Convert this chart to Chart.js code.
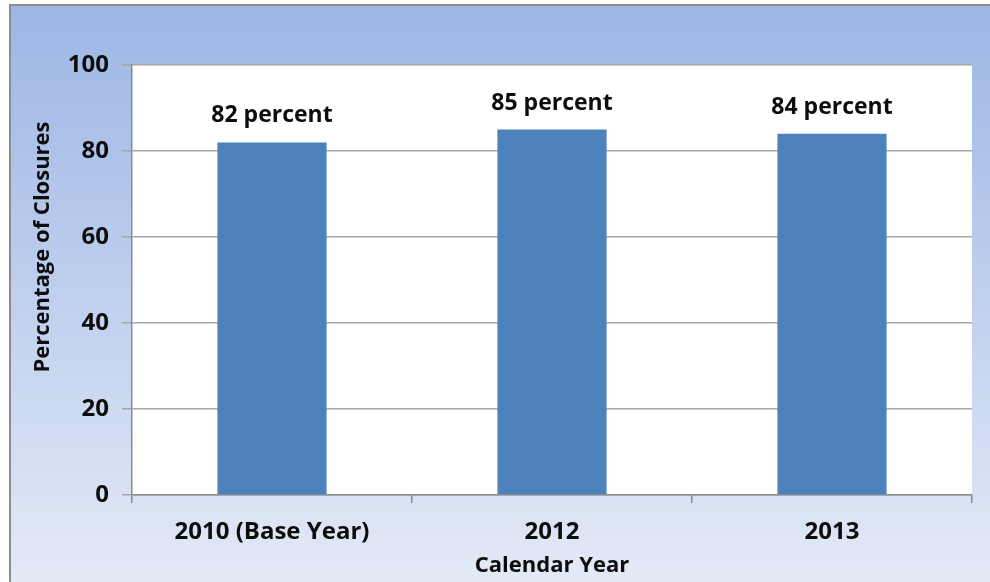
<!DOCTYPE html>
<html>
<head>
	<meta charset="UTF-8">
	<title>Percentage of Closures by Calendar Year</title>
	<script src="https://cdn.jsdelivr.net/npm/chart.js@4.4.1/dist/chart.umd.min.js"></script>
	<style>
		html, body { margin: 0; padding: 0; background: #fff; }
		#wrap { width: 990px; height: 582px; }
	</style>
</head>
<body>
	<div id="wrap"><canvas id="closureChart" width="990" height="582"></canvas></div>
	<script>
	// chart data
	const years = ["2010 (Base Year)", "2012", "2013"];
	const closures = [82, 85, 84];
	const valueLabels = ["82 percent", "85 percent", "84 percent"];
	const yTicks = [0, 20, 40, 60, 80, 100];

	const FONT = "'Open Sans', 'DejaVu Sans', sans-serif";

	// gradient frame, white plot area, axis titles
	const framePlugin = {
		id: 'frame',
		beforeDraw(chart){
			const ctx = chart.ctx;
			const area = chart.chartArea;
			ctx.save();
			ctx.fillStyle = '#ffffff';
			ctx.fillRect(0, 0, chart.width, chart.height);
			let grad = ctx.createLinearGradient(0, 5, 0, chart.height);
			grad.addColorStop(0, '#9db6e4');
			grad.addColorStop(0.5, '#bfcfee');
			grad.addColorStop(1, '#e3eaf6');
			ctx.fillStyle = grad;
			ctx.fillRect(10, 5, chart.width - 10, chart.height - 5);
			ctx.strokeStyle = '#8c8c8c';
			ctx.lineWidth = 2;
			ctx.beginPath();
			ctx.moveTo(10, chart.height);
			ctx.lineTo(10, 5);
			ctx.lineTo(chart.width, 5);
			ctx.stroke();
			ctx.fillStyle = '#ffffff';
			ctx.fillRect(area.left, area.top, area.right - area.left, area.bottom - area.top);
			ctx.restore();
		},
		afterDraw(chart){
			const ctx = chart.ctx;
			ctx.save();
			ctx.fillStyle = '#0d0d0d';
			ctx.font = "bold 22px " + FONT;
			ctx.textAlign = 'center';
			ctx.textBaseline = 'middle';
			ctx.fillText("Calendar Year", 552, 566);
			ctx.translate(43, 247);
			ctx.rotate(-Math.PI / 2);
			ctx.fillText("Percentage of Closures", 0, 0);
			ctx.restore();
		}
	};

	// "NN percent" above each bar
	const barLabels = {
		id: 'barLabels',
		afterDatasetsDraw(chart){
			const ctx = chart.ctx;
			const meta = chart.getDatasetMeta(0);
			ctx.save();
			ctx.fillStyle = '#0d0d0d';
			ctx.font = "bold 23px " + FONT;
			ctx.textAlign = 'center';
			ctx.textBaseline = 'alphabetic';
			meta.data.forEach(function(bar, i){
				ctx.fillText(valueLabels[i], bar.x, bar.y - 20);
			});
			ctx.restore();
		}
	};

	let chart = new Chart(document.getElementById("closureChart"), {
		type: 'bar',
		data: {
			labels: years,
			datasets: [{
				data: closures,
				backgroundColor: '#4f81bd',
				borderWidth: 0,
				barPercentage: 0.39,
				categoryPercentage: 1.0
			}]
		},
		options: {
			responsive: false,
			animation: false,
			layout: { padding: { left: 0, top: 65, right: 18, bottom: 0 } },
			plugins: {
				legend: { display: false },
				tooltip: { enabled: false }
			},
			scales: {
				x: {
					offset: true,
					grid: {
						offset: true,
						drawOnChartArea: false,
						color: '#8c8c8c',
						lineWidth: 1.5,
						tickLength: 8
					},
					border: { color: '#8c8c8c', width: 1.5 },
					ticks: {
						color: '#0d0d0d',
						font: { family: FONT, size: 24, weight: 'bold' },
						padding: 15,
						maxRotation: 0
					},
					afterFit(scale){ scale.height = 87; }
				},
				y: {
					min: 0,
					max: 100,
					afterBuildTicks(scale){
						scale.ticks = yTicks.map(v => ({ value: v }));
					},
					grid: {
						color: '#a6a6a6',
						lineWidth: 1.5,
						tickLength: 10
					},
					border: { color: '#8c8c8c', width: 1.5 },
					ticks: {
						color: '#0d0d0d',
						font: { family: FONT, size: 24, weight: 'bold' },
						padding: 13
					},
					afterFit(scale){ scale.width = 132; }
				}
			}
		},
		plugins: [framePlugin, barLabels]
	});
	</script>
</body>
</html>
